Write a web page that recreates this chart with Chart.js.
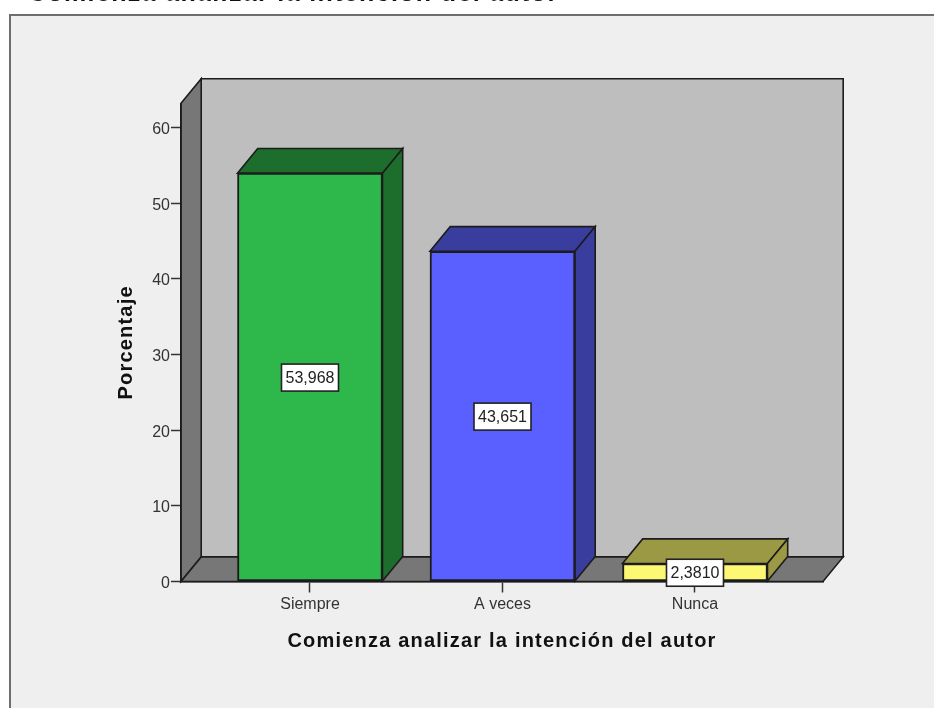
<!DOCTYPE html>
<html><head><meta charset="utf-8">
<style>html,body{margin:0;padding:0;background:#fff;overflow:hidden}canvas{display:block;filter:blur(0.4px)}#w{width:934px;height:708px;position:relative}</style>
<script src="https://cdn.jsdelivr.net/npm/chart.js@4/dist/chart.umd.js"></script>
</head><body><div id="w"><canvas id="c" width="934" height="708"></canvas></div>
<script>
const categories = ['Siempre', 'A veces', 'Nunca'];
const percentages = [53.968, 43.651, 2.381];
const valueLabels = ['53,968', '43,651', '2,3810'];
const yTickValues = [0, 10, 20, 30, 40, 50, 60];
const frontColors = ['#2eb84b', '#5a60ff', '#fdf873'];
const topSideColors = ['#1d6e2d', '#393d9e', '#9c9944'];
const chartTitle = 'Comienza analizar la intención del autor';
const xTitle = 'Comienza analizar la intención del autor';
const yTitle = 'Porcentaje';

const depthX = 20.2, depthY = 24.6;
const LINE = '#1c1c1c';

function poly(ctx, pts, fill, lw) {
  ctx.beginPath();
  pts.forEach((p, i) => i ? ctx.lineTo(p[0], p[1]) : ctx.moveTo(p[0], p[1]));
  ctx.closePath();
  ctx.fillStyle = fill; ctx.fill();
  ctx.strokeStyle = LINE; ctx.lineWidth = lw || 1.6; ctx.lineJoin = 'miter'; ctx.stroke();
}

const spacedTitles = {
  id: 'spacedTitles',
  beforeDraw(chart) {
    Object.values(chart.scales).forEach(s => {
      if (s._spaced) return;
      const orig = s.drawTitle.bind(s);
      s.drawTitle = function () {
        const ctx = s.ctx;
        const prev = ctx.letterSpacing;
        ctx.letterSpacing = '1.2px';
        orig();
        ctx.letterSpacing = prev;
      };
      s._spaced = true;
    });
  }
};

const scene3d = {
  id: 'scene3d',
  beforeDraw(chart) {
    const { ctx, chartArea: a } = chart;
    const W = chart.width, H = chart.height;
    ctx.save();
    ctx.fillStyle = '#fff'; ctx.fillRect(0, 0, W, H);
    ctx.fillStyle = '#efefef'; ctx.fillRect(9, 14, W, H);
    ctx.fillStyle = '#6e6e6e';
    ctx.fillRect(9, 14, W, 2);
    ctx.fillRect(9, 14, 2, H);
    ctx.font = 'bold 25px "Liberation Sans"';
    ctx.letterSpacing = '1.35px';
    ctx.fillStyle = '#111'; ctx.textBaseline = 'alphabetic';
    ctx.fillText(chartTitle, 28, 1);
    ctx.letterSpacing = '0px';
    const l = a.left, r = a.right, t = a.top, b = a.bottom;
    poly(ctx, [[l + depthX, t - depthY], [r + depthX, t - depthY], [r + depthX, b - depthY], [l + depthX, b - depthY]], '#bebebe');
    poly(ctx, [[l, b], [l + depthX, b - depthY], [l + depthX, t - depthY], [l, t]], '#777777');
    poly(ctx, [[l, b], [r, b], [r + depthX, b - depthY], [l + depthX, b - depthY]], '#777777');
    ctx.restore();
  },
  beforeDatasetsDraw(chart) {
    const { ctx } = chart;
    ctx.save();
    chart.getDatasetMeta(0).data.forEach((bar, i) => {
      const hw = bar.width / 2, L = bar.x - hw, R = bar.x + hw, T = bar.y, B = bar.base;
      poly(ctx, [[L, T], [R, T], [R + depthX, T - depthY], [L + depthX, T - depthY]], topSideColors[i]);
      poly(ctx, [[R, T], [R + depthX, T - depthY], [R + depthX, B - depthY], [R, B]], topSideColors[i]);
    });
    ctx.restore();
  },
  afterDatasetsDraw(chart) {
    const { ctx } = chart;
    ctx.save();
    ctx.font = '16px "Liberation Sans"';
    ctx.textAlign = 'center'; ctx.textBaseline = 'middle';
    chart.getDatasetMeta(0).data.forEach((bar, i) => {
      const cy = (bar.y + bar.base) / 2 + 0.5, w = 57, h = 27;
      ctx.fillStyle = '#fff';
      ctx.strokeStyle = '#222'; ctx.lineWidth = 1.6;
      ctx.fillRect(bar.x - w / 2, cy - h / 2, w, h);
      ctx.strokeRect(bar.x - w / 2, cy - h / 2, w, h);
      ctx.fillStyle = '#222';
      ctx.fillText(valueLabels[i], bar.x, cy + 1);
    });
    ctx.restore();
  }
};

new Chart(document.getElementById('c'), {
  type: 'bar',
  data: {
    datasets: [{
      data: percentages.map((v, i) => ({ x: i, y: v })),
      backgroundColor: frontColors,
      borderColor: LINE,
      borderWidth: 2,
      borderSkipped: false,
      barThickness: 145
    }]
  },
  options: {
    responsive: false,
    animation: false,
    layout: { padding: { top: 103.3, right: 111, left: 0, bottom: 0 } },
    plugins: { legend: { display: false }, tooltip: { enabled: false }, title: { display: false } },
    scales: {
      x: {
        type: 'linear',
        offset: false,
        min: -0.6701, max: 2.665,
        afterFit(s) { s.height = 126.5; },
        afterBuildTicks(s) { s.ticks = categories.map((_, i) => ({ value: i })); },
        grid: { offset: false, drawOnChartArea: false, drawTicks: true, tickLength: 11, tickColor: '#333', tickWidth: 1.5 },
        border: { display: true, color: LINE, width: 1.6 },
        ticks: { autoSkip: false, maxRotation: 0, padding: 2, color: '#333',
          font: { family: '"Liberation Sans"', size: 16 },
          callback: v => categories[v] },
        title: { display: true, text: xTitle, color: '#111',
          font: { family: '"Liberation Sans"', size: 20, weight: 'bold', lineHeight: 1.2 },
          padding: { top: 0, bottom: 55 } }
      },
      y: {
        type: 'linear',
        min: 0, max: 63.2,
        afterFit(s) { s.width = 181; },
        afterBuildTicks(s) { s.ticks = yTickValues.map(v => ({ value: v })); },
        grid: { drawOnChartArea: false, drawTicks: true, tickLength: 10, tickColor: '#333', tickWidth: 1.5 },
        border: { display: true, color: LINE, width: 1.6 },
        ticks: { padding: 1, labelOffset: 2, color: '#333', font: { family: '"Liberation Sans"', size: 16 } },
        title: { display: true, text: yTitle, color: '#111',
          font: { family: '"Liberation Sans"', size: 20, weight: 'bold', lineHeight: 1.2 },
          padding: { top: 114.5, bottom: 0 } }
      }
    }
  },
  plugins: [spacedTitles, scene3d]
});
</script></body></html>
